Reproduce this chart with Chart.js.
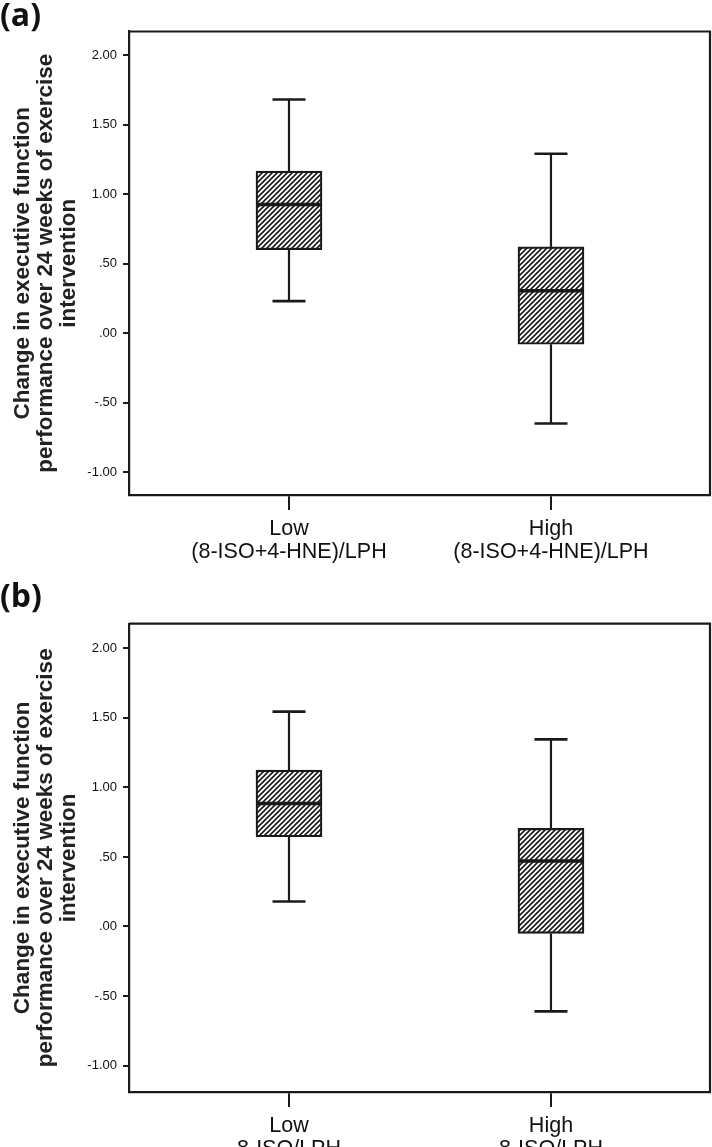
<!DOCTYPE html>
<html><head><meta charset="utf-8">
<script src="https://cdn.jsdelivr.net/npm/chart.js@4.4.0/dist/chart.umd.min.js"></script>
<style>
html,body{margin:0;padding:0;background:#fff;overflow:hidden;width:712px;height:1147px;position:relative}
.wrap{position:absolute;left:0;width:712px}
#wa{top:0;height:580px}
#wb{top:580px;height:600px}
canvas{display:block}
</style></head><body>
<div class="wrap" id="wa"><canvas id="ca" width="712" height="580"></canvas></div>
<div class="wrap" id="wb"><canvas id="cb" width="712" height="600"></canvas></div>
<script>
// ---- data ----
const groups = ['Low', 'High'];
const groupPositions = [1, 2];
const aSubLabels = ['(8-ISO+4-HNE)/LPH', '(8-ISO+4-HNE)/LPH'];
const bSubLabels = ['8-ISO/LPH', '8-ISO/LPH'];

const aMin = [0.23, -0.65];
const aQ1  = [0.60, -0.08];
const aMed = [0.925, 0.305];
const aQ3  = [1.165, 0.62];
const aMax = [1.68, 1.29];

const bMin = [0.18, -0.61];
const bQ1  = [0.645, -0.05];
const bMed = [0.885, 0.47];
const bQ3  = [1.125, 0.705];
const bMax = [1.545, 1.345];

const yTickValues = [-1, -0.5, 0, 0.5, 1, 1.5, 2];
const yTickLabels = ['-1.00', '-.50', '.00', '.50', '1.00', '1.50', '2.00'];
const yTitle = ['Change in executive function', 'performance over 24 weeks of exercise', 'intervention'];
const panelLabels = ['(a)', '(b)'];

// ---- styling ----
const INK = '#1a1a1a';

function makeHatch(ctx) {
  const s = 5;
  const c = document.createElement('canvas');
  c.width = s; c.height = s;
  const g = c.getContext('2d');
  g.fillStyle = '#fff'; g.fillRect(0, 0, s, s);
  g.strokeStyle = INK; g.lineWidth = 1.6;
  g.beginPath();
  g.moveTo(-1, s + 1); g.lineTo(s + 1, -1);
  g.moveTo(-1, 1); g.lineTo(1, -1);
  g.moveTo(s - 1, s + 1); g.lineTo(s + 1, s - 1);
  g.stroke();
  return ctx.createPattern(c, 'repeat');
}

const boxPlugin = {
  id: 'boxWhisker',
  afterDatasetsDraw(chart) {
    const { ctx, scales: { x, y } } = chart;
    const ds = chart.data.datasets[0];
    const bars = chart.getDatasetMeta(0).data;
    ctx.save();
    ctx.strokeStyle = INK;
    ctx.lineCap = 'butt';
    const line = (x1, y1, x2, y2) => { ctx.beginPath(); ctx.moveTo(x1, y1); ctx.lineTo(x2, y2); ctx.stroke(); };
    groupPositions.forEach((p, i) => {
      const cx = x.getPixelForValue(p);
      const half = bars[i].width / 2;
      const yMin = y.getPixelForValue(ds.sMin[i]);
      const yQ1 = y.getPixelForValue(ds.sQ1[i]);
      const yMed = y.getPixelForValue(ds.sMed[i]);
      const yQ3 = y.getPixelForValue(ds.sQ3[i]);
      const yMax = y.getPixelForValue(ds.sMax[i]);
      ctx.lineWidth = 2.2;
      line(cx, yQ3, cx, yMax);
      line(cx, yQ1, cx, yMin);
      ctx.lineWidth = 2.6;
      line(cx - half / 2, yMax, cx + half / 2, yMax);
      line(cx - half / 2, yMin, cx + half / 2, yMin);
      ctx.lineWidth = 3.5;
      line(cx - half, yMed, cx + half, yMed);
    });
    ctx.restore();
  },
  afterDraw(chart) {
    const { ctx, chartArea: a } = chart;
    ctx.save();
    ctx.strokeStyle = INK;
    ctx.lineWidth = 2.2;
    ctx.beginPath();
    ctx.moveTo(a.left, a.top);
    ctx.lineTo(a.right, a.top);
    ctx.lineTo(a.right, a.bottom);
    ctx.stroke();
    ctx.restore();
  }
};

function makeChart(id, label, subLabels, mn, q1, med, q3, mx, cfg) {
  const canvas = document.getElementById(id);
  const ctx = canvas.getContext('2d');
  return new Chart(ctx, {
    type: 'bar',
    data: {
      datasets: [{
        data: groupPositions.map((p, i) => ({ x: p, y: [q1[i], q3[i]] })),
        sMin: mn, sQ1: q1, sMed: med, sQ3: q3, sMax: mx,
        backgroundColor: makeHatch(ctx),
        borderColor: INK,
        borderWidth: 2.2,
        borderSkipped: false,
        barThickness: 66
      }]
    },
    options: {
      responsive: false,
      animation: false,
      events: [],
      layout: { padding: { left: 0, right: 2, top: 0, bottom: 0 } },
      plugins: {
        legend: { display: false },
        tooltip: { enabled: false },
        title: {
          display: true, text: label, align: 'start', color: '#111',
          font: { family: 'Open Sans', weight: 'bold', size: 32, lineHeight: '29px' },
          padding: cfg.titlePad
        }
      },
      scales: {
        x: {
          type: 'linear', min: 0.3893, max: 2.607, offset: false,
          afterBuildTicks: s => { s.ticks = groupPositions.map(v => ({ value: v })); },
          afterFit: s => { s.height = cfg.xHeight; },
          ticks: {
            callback: (v, i) => [groups[i], subLabels[i]],
            font: { family: 'Liberation Sans', size: 21.5, lineHeight: '23px' },
            color: '#111', padding: 8, maxRotation: 0, autoSkip: false
          },
          grid: { offset: false, drawOnChartArea: false, drawTicks: true, tickLength: 15, color: INK, lineWidth: 2 },
          border: { display: true, color: INK, width: 2.2 }
        },
        y: {
          min: cfg.yMin, max: cfg.yMax,
          afterBuildTicks: s => { s.ticks = yTickValues.map(v => ({ value: v })); },
          afterFit: s => { s.width = 129; },
          ticks: {
            callback: (v, i) => yTickLabels[i],
            font: { family: 'Liberation Sans', size: 13 },
            color: '#111', padding: 6, autoSkip: false
          },
          grid: { drawOnChartArea: false, drawTicks: true, tickLength: 6, color: INK, lineWidth: 2 },
          border: { display: true, color: INK, width: 2.2 },
          title: {
            display: true, text: yTitle, color: '#222',
            font: { family: 'Liberation Sans', weight: 'bold', size: 22.5, lineHeight: '23px' },
            padding: { top: 11, bottom: 0 }
          }
        }
      }
    },
    plugins: [boxPlugin]
  });
}

makeChart('ca', panelLabels[0], aSubLabels, aMin, aQ1, aMed, aQ3, aMax,
  { titlePad: { top: 2.5, bottom: 0 }, xHeight: 85, yMin: -1.164, yMax: 2.169 });
makeChart('cb', panelLabels[1], bSubLabels, bMin, bQ1, bMed, bQ3, bMax,
  { titlePad: { top: 3.5, bottom: 11.2 }, xHeight: 88, yMin: -1.19, yMax: 2.177 });
</script>
</body></html>
